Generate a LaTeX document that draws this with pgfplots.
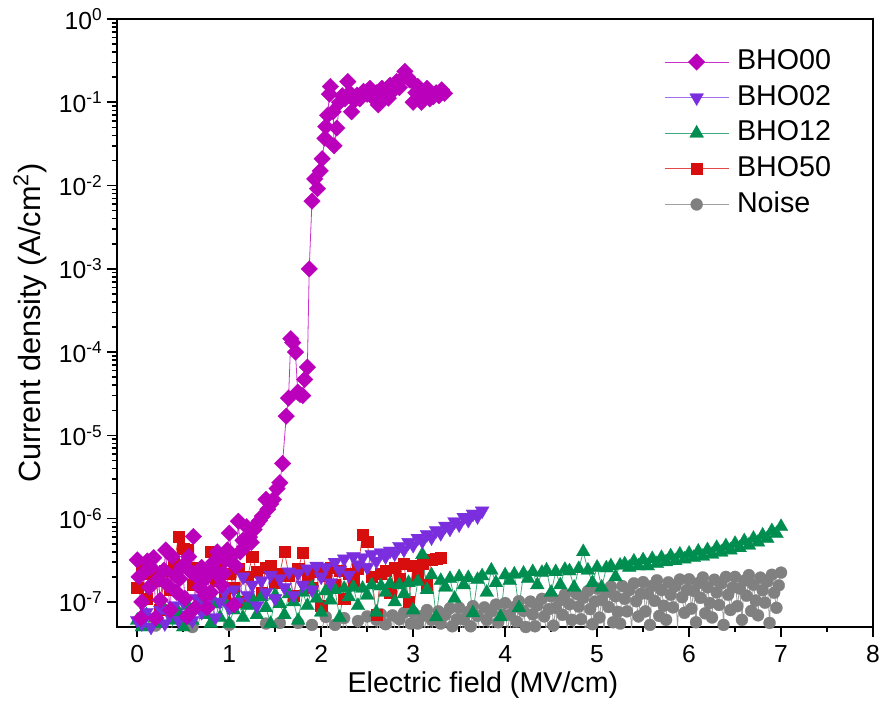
\documentclass[border=0pt]{standalone}
\usepackage{fontspec}
\setmainfont{Liberation Sans}
\usepackage{pgfplots}
\pgfplotsset{compat=1.18}
\definecolor{c00}{RGB}{187,0,187}
\definecolor{c02}{RGB}{122,46,222}
\definecolor{c12}{RGB}{0,142,80}
\definecolor{c50}{RGB}{216,14,14}
\definecolor{cno}{RGB}{128,128,128}
\begin{document}
\begin{tikzpicture}
\useasboundingbox (-87.75pt,-75pt) rectangle (575.25pt,470.25pt);
\begin{axis}[
  scale only axis, width=567pt, height=456pt,
  anchor=south west, at={(0pt,0pt)},
  ymode=log, xmin=-0.22, xmax=8, ymin=5e-8, ymax=1,
  xtick={0,1,2,3,4,5,6,7,8}, xticklabels={0,1,2,3,4,5,6,7,8}, minor x tick num=1,
  ytick={1e-7,1e-6,1e-5,1e-4,1e-3,1e-2,1e-1,1},
  yticklabels={10\textsuperscript{-7},10\textsuperscript{-6},10\textsuperscript{-5},10\textsuperscript{-4},10\textsuperscript{-3},10\textsuperscript{-2},10\textsuperscript{-1},10\textsuperscript{0}},
  tick align=outside, xtick pos=bottom, ytick pos=left,
  major tick length=7.5pt, minor tick length=4pt,
  tick style={black, line width=1.2pt},
  axis line style={line width=1.5pt},
  ticklabel style={font=\fontsize{18.5}{21}\selectfont},
  xticklabel style={yshift=-3pt},
  xlabel={Electric field (MV/cm)},
  ylabel={Current density (A/cm\textsuperscript{2})},
  xlabel style={font=\fontsize{21.5}{25}\selectfont, at={(axis description cs:0.484,-0.095)}, anchor=center},
  ylabel style={font=\fontsize{23}{27}\selectfont, at={(axis description cs:-0.115,0.50)}, anchor=center},
  reverse legend,
  legend cell align=left,
  legend style={draw=none, fill=none, at={(axis description cs:0.7235,0.951)}, anchor=north west,
    font=\fontsize{21.5}{25}\selectfont, inner sep=0pt, row sep=7.2pt,
    nodes={inner sep=0pt, text height=15.5pt, text depth=4pt},
    /tikz/every odd column/.append style={column sep=6pt}},
  legend image code/.code={\draw[mark repeat=2,mark phase=2] plot coordinates {(0pt,0pt) (24pt,0pt) (48pt,0pt)};},
]
\addplot[cno!75!white, line width=0.6pt, mark=*, mark size=4.5pt, mark options={fill=cno, draw=cno, line width=0.2pt}] table {
0.0 4.0e-8
0.1 2.5e-8
0.2 5.2e-8
0.3 3.0e-8
0.4 4.4e-8
0.5 2.2e-8
0.6 5.0e-8
0.7 3.5e-8
0.8 4.6e-8
0.9 2.8e-8
1.0 5.3e-8
1.1 3.2e-8
1.2 4.8e-8
1.3 2.6e-8
1.4 5.5e-8
1.5 3.8e-8
1.55 5.6e-8
1.60 2.8e-8
1.65 4.6e-8
1.70 2.0e-8
1.75 5.6e-8
1.80 3.6e-8
1.85 1.9e-8
1.90 5.3e-8
1.95 2.9e-8
2.00 4.6e-8
2.05 6.6e-8
2.10 3.3e-8
2.15 5.3e-8
2.20 2.4e-8
2.25 6.4e-8
2.30 4.1e-8
2.35 2.1e-8
2.40 5.9e-8
2.45 3.1e-8
2.500 6.7e-8
2.525 3.0e-8
2.550 4.9e-8
2.575 2.0e-8
2.600 6.1e-8
2.625 4.0e-8
2.650 7.1e-8
2.675 2.6e-8
2.700 5.4e-8
2.725 3.5e-8
2.750 2.4e-8
2.775 6.9e-8
2.800 4.8e-8
2.825 3.4e-8
2.850 6.2e-8
2.875 2.0e-8
2.900 7.4e-8
2.925 4.5e-8
2.950 3.0e-8
2.975 5.5e-8
3.000 7.5e-8
3.025 3.4e-8
3.050 5.5e-8
3.075 2.3e-8
3.100 6.8e-8
3.125 4.5e-8
3.150 8.0e-8
3.175 3.0e-8
3.200 6.1e-8
3.225 3.9e-8
3.250 2.7e-8
3.275 7.7e-8
3.300 5.5e-8
3.325 3.9e-8
3.350 7.0e-8
3.375 2.2e-8
3.400 8.4e-8
3.425 5.1e-8
3.450 3.3e-8
3.475 6.2e-8
3.500 8.5e-8
3.525 3.8e-8
3.550 6.2e-8
3.575 2.6e-8
3.600 7.6e-8
3.625 5.1e-8
3.650 8.9e-8
3.675 3.3e-8
3.700 6.8e-8
3.725 4.4e-8
3.750 3.0e-8
3.775 8.6e-8
3.800 6.1e-8
3.825 4.3e-8
3.850 7.7e-8
3.875 2.5e-8
3.900 9.3e-8
3.925 5.7e-8
3.950 3.7e-8
3.975 7.0e-8
4.000 9.7e-8
4.025 4.3e-8
4.050 7.0e-8
4.075 2.9e-8
4.100 8.7e-8
4.125 5.8e-8
4.150 1.02e-7
4.175 3.8e-8
4.200 7.8e-8
4.225 5.0e-8
4.250 3.6e-8
4.275 1.01e-7
4.300 7.1e-8
4.325 5.1e-8
4.350 9.1e-8
4.375 2.9e-8
4.400 1.09e-7
4.425 6.7e-8
4.450 4.4e-8
4.475 8.2e-8
4.500 1.17e-7
4.525 5.2e-8
4.550 8.5e-8
4.575 3.6e-8
4.600 1.05e-7
4.625 7.0e-8
4.650 1.23e-7
4.675 4.6e-8
4.700 9.4e-8
4.725 6.1e-8
4.750 4.4e-8
4.775 1.25e-7
4.800 8.8e-8
4.825 6.2e-8
4.850 1.12e-7
4.875 3.6e-8
4.900 1.35e-7
4.925 8.2e-8
4.950 5.4e-8
4.975 1.01e-7
5.000 1.45e-7
5.025 6.5e-8
5.050 1.06e-7
5.075 4.4e-8
5.100 1.31e-7
5.125 8.7e-8
5.150 1.53e-7
5.175 5.7e-8
5.200 1.17e-7
5.225 7.6e-8
5.250 5.5e-8
5.275 1.55e-7
5.300 1.09e-7
5.325 7.7e-8
5.350 1.39e-7
5.375 4.4e-8
5.400 1.67e-7
5.425 1.02e-7
5.450 6.7e-8
5.475 1.25e-7
5.500 1.73e-7
5.525 7.7e-8
5.550 1.26e-7
5.575 5.3e-8
5.600 1.56e-7
5.625 1.03e-7
5.650 1.82e-7
5.675 6.8e-8
5.700 1.39e-7
5.725 9.0e-8
5.750 6.1e-8
5.775 1.72e-7
5.800 1.22e-7
5.825 8.6e-8
5.850 1.55e-7
5.875 4.9e-8
5.900 1.86e-7
5.925 1.14e-7
5.950 7.4e-8
5.975 1.39e-7
6.000 1.87e-7
6.025 8.3e-8
6.050 1.36e-7
6.075 5.7e-8
6.100 1.68e-7
6.125 1.12e-7
6.150 1.97e-7
6.175 7.3e-8
6.200 1.50e-7
6.225 9.7e-8
6.250 6.5e-8
6.275 1.85e-7
6.300 1.30e-7
6.325 9.2e-8
6.350 1.66e-7
6.375 5.3e-8
6.400 2.00e-7
6.425 1.22e-7
6.450 8.0e-8
6.475 1.49e-7
6.500 2.00e-7
6.525 8.9e-8
6.550 1.45e-7
6.575 6.1e-8
6.600 1.80e-7
6.625 1.19e-7
6.650 2.10e-7
6.675 7.8e-8
6.700 1.61e-7
6.725 1.04e-7
6.750 6.9e-8
6.775 1.96e-7
6.800 1.38e-7
6.825 9.8e-8
6.850 1.76e-7
6.875 5.6e-8
6.900 2.12e-7
6.925 1.29e-7
6.950 8.5e-8
6.975 1.58e-7
7.000 2.25e-7
};
\addlegendentry{Noise}
\addplot[c50!75!white, line width=0.6pt, mark=square*, mark size=4.2pt, mark options={fill=c50, draw=c50, line width=0.2pt}] table {
0.00 1.5e-7
0.05 2.7e-7
0.10 1.1e-7
0.15 2.2e-7
0.20 1.8e-7
0.25 8.0e-8
0.30 2.4e-7
0.35 1.4e-7
0.40 2.9e-7
0.45 6.1e-7
0.50 4.4e-7
0.55 4.2e-7
0.60 1.6e-7
0.65 2.6e-7
0.70 9.0e-8
0.75 2.3e-7
0.80 4.0e-7
0.85 1.8e-7
0.90 3.0e-7
0.95 1.2e-7
1.00 2.2e-7
1.05 1.5e-7
1.10 2.5e-7
1.15 1.0e-7
1.20 2.0e-7
1.25 3.5e-7
1.30 2.3e-7
1.35 1.3e-7
1.40 2.6e-7
1.45 2.7e-7
1.50 1.7e-7
1.55 2.2e-7
1.60 4.0e-7
1.65 2.1e-7
1.70 1.2e-7
1.75 2.5e-7
1.80 3.9e-7
1.85 2.0e-7
1.90 1.5e-7
1.95 2.3e-7
2.00 9.0e-8
2.05 2.1e-7
2.10 2.6e-7
2.15 1.6e-7
2.20 2.4e-7
2.25 1.1e-7
2.30 2.2e-7
2.35 1.8e-7
2.40 2.5e-7
2.45 6.5e-7
2.50 5.3e-7
2.55 2.0e-7
2.60 7.0e-8
2.65 2.2e-7
2.70 2.4e-7
2.75 1.3e-7
2.80 2.6e-7
2.85 1.9e-7
2.90 2.9e-7
2.95 1.0e-7
3.00 2.7e-7
3.05 2.1e-7
3.10 2.9e-7
3.15 1.6e-7
3.20 3.2e-7
3.25 3.3e-7
3.30 3.4e-7
};
\addlegendentry{BHO50}
\addplot[c12!75!white, line width=0.6pt, mark=triangle*, mark size=6pt, mark options={fill=c12, draw=c12, line width=0.2pt}] table {
0.00 6.0e-8
0.05 5.0e-8
0.10 7.0e-8
0.15 4.5e-8
0.20 6.5e-8
0.25 5.5e-8
0.30 8.0e-8
0.35 4.0e-8
0.40 6.0e-8
0.45 7.5e-8
0.50 5.0e-8
0.55 9.0e-8
0.60 6.0e-8
0.65 4.5e-8
0.70 8.5e-8
0.75 7.0e-8
0.80 5.5e-8
0.85 9.5e-8
0.90 6.5e-8
0.95 1.0e-7
1.00 5.5e-8
1.05 8.0e-8
1.10 1.05e-7
1.15 6.5e-8
1.20 9.0e-8
1.25 1.1e-7
1.30 7.0e-8
1.35 1.15e-7
1.40 8.5e-8
1.45 5.5e-8
1.50 1.2e-7
1.55 9.5e-8
1.60 7.0e-8
1.65 1.25e-7
1.70 1.0e-7
1.75 6.0e-8
1.80 1.3e-7
1.85 9.0e-8
1.90 1.5e-7
1.95 1.1e-7
2.00 7.5e-8
2.05 1.35e-7
2.10 1.05e-7
2.15 1.4e-7
2.20 6.5e-8
2.25 1.45e-7
2.30 1.15e-7
2.35 1.5e-7
2.40 9.0e-8
2.45 1.45e-7
2.50 1.2e-7
2.55 1.6e-7
2.60 7.5e-8
2.65 1.55e-7
2.70 1.3e-7
2.75 1.65e-7
2.80 1.0e-7
2.85 1.6e-7
2.90 1.25e-7
2.95 1.7e-7
3.00 8.0e-8
3.05 1.75e-7
3.10 3.7e-7
3.15 1.4e-7
3.20 2.1e-7
3.25 6.6e-8
3.30 1.8e-7
3.35 1.5e-7
3.40 1.9e-7
3.45 1.1e-7
3.50 2.0e-7
3.55 1.6e-7
3.60 1.95e-7
3.65 7.4e-8
3.70 1.85e-7
3.75 2.05e-7
3.80 1.3e-7
3.85 2.4e-7
3.90 1.7e-7
3.95 6.6e-8
4.00 2.1e-7
4.05 1.8e-7
4.10 2.15e-7
4.15 8.5e-8
4.20 2.2e-7
4.25 1.9e-7
4.30 2.3e-7
4.35 1.6e-7
4.40 2.25e-7
4.45 2.4e-7
4.50 1.3e-7
4.55 2.3e-7
4.60 1.6e-7
4.65 2.45e-7
4.70 2.35e-7
4.75 1.5e-7
4.80 2.5e-7
4.85 4.0e-7
4.90 2.4e-7
4.95 1.7e-7
5.00 2.6e-7
5.05 1.5e-7
5.10 2.55e-7
5.15 2.7e-7
5.20 2.0e-7
5.25 2.75e-7
5.30 2.85e-7
5.35 2.6e-7
5.40 3.08e-7
5.45 2.7e-7
5.50 3.19e-7
5.55 2.7e-7
5.60 3.3e-7
5.65 2.88e-7
5.70 3.4e-7
5.75 3.02e-7
5.80 3.56e-7
5.85 3.12e-7
5.90 3.73e-7
5.95 3.26e-7
6.00 3.83e-7
6.05 3.4e-7
6.10 4.05e-7
6.15 3.53e-7
6.20 4.21e-7
6.25 3.72e-7
6.30 4.48e-7
6.35 3.95e-7
6.40 4.7e-7
6.45 4.19e-7
6.50 5.02e-7
6.55 4.46e-7
6.60 5.4e-7
6.65 4.79e-7
6.70 5.78e-7
6.75 5.21e-7
6.80 6.32e-7
6.85 5.77e-7
6.90 7.13e-7
6.95 6.6e-7
7.00 8.0e-7
};
\addlegendentry{BHO12}
\addplot[c02!70!white, line width=0.6pt, mark=triangle*, mark size=6pt, mark options={rotate=180, fill=c02, draw=c02, line width=0.2pt}] table {
0.00 6.0e-8
0.05 5.5e-8
0.10 7.5e-8
0.15 5.0e-8
0.20 6.5e-8
0.25 8.0e-8
0.30 5.5e-8
0.35 7.0e-8
0.40 9.0e-8
0.45 6.0e-8
0.50 1.0e-7
0.55 7.0e-8
0.60 6.0e-8
0.65 1.1e-7
0.70 7.5e-8
0.75 9.0e-8
0.80 1.2e-7
0.85 6.5e-8
0.90 1.0e-7
0.95 1.3e-7
1.00 8.5e-8
1.05 1.4e-7
1.10 1.0e-7
1.15 2.0e-7
1.20 1.2e-7
1.25 1.6e-7
1.30 9.0e-8
1.35 1.8e-7
1.40 1.3e-7
1.45 2.1e-7
1.50 1.1e-7
1.55 1.9e-7
1.60 1.5e-7
1.65 2.3e-7
1.70 1.2e-7
1.75 2.2e-7
1.80 1.6e-7
1.85 2.5e-7
1.90 1.4e-7
1.95 2.7e-7
2.00 2.0e-7
2.05 2.6e-7
2.10 1.7e-7
2.15 3.0e-7
2.20 2.4e-7
2.25 3.3e-7
2.30 2.1e-7
2.35 3.5e-7
2.40 2.8e-7
2.45 3.4e-7
2.50 2.6e-7
2.55 3.7e-7
2.60 3.1e-7
2.65 3.9e-7
2.70 3.5e-7
2.75 4.1e-7
2.80 3.8e-7
2.85 4.66e-7
2.90 4.23e-7
2.95 5.19e-7
3.00 4.79e-7
3.05 5.83e-7
3.10 5.36e-7
3.15 6.47e-7
3.20 5.92e-7
3.25 7.21e-7
3.30 6.67e-7
3.35 8.16e-7
3.40 7.52e-7
3.45 9.22e-7
3.50 8.46e-7
3.55 1.04e-6
3.60 9.59e-7
3.65 1.14e-6
3.70 1.06e-6
3.75 1.24e-6
};
\addlegendentry{BHO02}
\addplot[c00!80!white, line width=0.6pt, mark=square*, mark size=4.4pt, mark options={rotate=45, fill=c00, draw=c00, line width=0.2pt}] table {
0.00 3.2e-7
0.02 2.0e-7
0.04 6.4e-8
0.05 1.0e-7
0.08 2.3e-7
0.11 3.1e-7
0.13 1.5e-7
0.15 2.6e-7
0.18 3.4e-7
0.20 6.4e-8
0.23 1.9e-7
0.25 1.05e-7
0.29 2.4e-7
0.31 4.2e-7
0.33 1.6e-7
0.36 8.0e-8
0.38 3.5e-7
0.41 2.1e-7
0.43 1.3e-7
0.46 1.9e-7
0.49 2.7e-7
0.52 1.1e-7
0.54 6.7e-8
0.56 3.5e-7
0.58 2.3e-7
0.61 6.1e-7
0.63 8.5e-8
0.65 2.0e-7
0.68 1.5e-7
0.70 2.6e-7
0.72 1.8e-7
0.74 1.2e-7
0.76 8.5e-8
0.78 2.2e-7
0.80 1.3e-7
0.83 3.0e-7
0.85 2.4e-7
0.87 4.0e-7
0.89 2.0e-7
0.92 1.6e-7
0.94 2.2e-7
0.96 3.2e-7
0.98 4.2e-7
1.00 6.7e-7
1.03 3.6e-7
1.05 9.2e-8
1.07 2.7e-7
1.10 9.3e-7
1.12 4.0e-7
1.15 5.5e-7
1.17 4.6e-7
1.19 8.0e-7
1.22 6.0e-7
1.24 5.2e-7
1.27 7.4e-7
1.30 8.6e-7
1.33 9.5e-7
1.36 1.07e-6
1.40 1.7e-6
1.42 1.3e-6
1.45 1.5e-6
1.48 1.7e-6
1.52 2.3e-6
1.55 2.7e-6
1.58 4.6e-6
1.62 1.7e-5
1.645 2.8e-5
1.67 1.45e-4
1.69 1.3e-4
1.72 1.0e-4
1.745 3.3e-5
1.77 3.1e-5
1.80 3.0e-5
1.82 4.7e-5
1.85 6.6e-5
1.87 1.0e-3
1.90 6.5e-3
1.93 1.2e-2
1.96 9.2e-3
1.99 1.5e-2
2.01 2.1e-2
2.04 3.7e-2
2.05 5.1e-2
2.07 7.0e-2
2.09 1.25e-1
2.10 1.55e-1
2.13 7.7e-2
2.14 3.0e-2
2.17 4.9e-2
2.20 1.0e-1
2.23 1.2e-1
2.26 1.1e-1
2.29 1.77e-1
2.31 1.3e-1
2.33 7.7e-2
2.36 1.05e-1
2.39 1.22e-1
2.42 1.1e-1
2.46 1.35e-1
2.50 1.25e-1
2.53 1.47e-1
2.57 1.12e-1
2.60 1.3e-1
2.62 9.3e-2
2.66 1.47e-1
2.70 1.3e-1
2.73 1.12e-1
2.75 1.6e-1
2.79 1.4e-1
2.82 1.77e-1
2.85 1.5e-1
2.88 1.9e-1
2.91 2.35e-1
2.94 2.0e-1
2.96 1.86e-1
3.00 1.0e-1
3.03 1.3e-1
3.05 1.55e-1
3.09 1.0e-1
3.11 1.22e-1
3.15 1.47e-1
3.18 1.1e-1
3.22 1.17e-1
3.25 1.3e-1
3.28 1.2e-1
3.31 1.41e-1
3.34 1.28e-1
};
\addlegendentry{BHO00}
\end{axis}
\end{tikzpicture}
\end{document}
